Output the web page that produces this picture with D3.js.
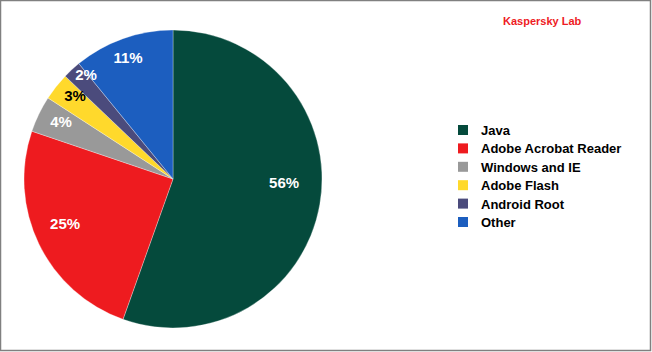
<!DOCTYPE html>
<html>
<head>
<meta charset="utf-8">
<script src="https://cdn.jsdelivr.net/npm/d3@7"></script>
<style>
  body { margin: 0; background: #fff; }
  svg { display: block; font-family: Arial, "Liberation Sans", sans-serif; }
</style>
</head>
<body>
<div id="container"></div>
<script>
const categories = ['Java', 'Adobe Acrobat Reader', 'Windows and IE', 'Adobe Flash', 'Android Root', 'Other']
const values = [56, 25, 4, 3, 2, 11]
const labels = ['56%', '25%', '4%', '3%', '2%', '11%']
const colors = ['#054A3C', '#EE1B1F', '#999999', '#FFD92C', '#4B4B7C', '#1C5EBF']
const labelColors = ['#fff', '#fff', '#fff', '#000', '#fff', '#fff']
// label placement: fraction of radius, and angle nudge in degrees
const labelRadius = [0.746, 0.785, 0.844, 0.862, 0.91, 0.866]
const labelNudge = [-7.9, 3.2, 1.3, 2, 2.9, -0.8]

const width = 652
const height = 352
const svg = d3.select('#container').append('svg').attr('width', width).attr('height', height)

svg.append('rect')
    .attr('x', 0.5).attr('y', 0.5)
    .attr('width', width - 2).attr('height', height - 2)
    .attr('fill', '#fff')
    .attr('stroke', '#808080')
    .attr('stroke-width', 1.5)

const cx = 173, cy = 179, r = 149

const pie = d3.pie().sort(null).value(d => d)
const arcs = pie(values)
const arc = d3.arc().innerRadius(0).outerRadius(r)

const g = svg.append('g').attr('transform', `translate(${cx},${cy})`)

g.selectAll('path').data(arcs).enter().append('path')
    .attr('d', arc)
    .attr('fill', (d, i) => colors[i])
    .attr('stroke', 'rgba(255,255,255,0.5)')
    .attr('stroke-width', 0.6)

g.selectAll('text').data(arcs).enter().append('text')
    .attr('transform', (d, i) => {
        const a = (d.startAngle + d.endAngle) / 2 + labelNudge[i] * Math.PI / 180
        const rr = r * labelRadius[i]
        return `translate(${Math.sin(a) * rr},${-Math.cos(a) * rr})`
    })
    .attr('text-anchor', 'middle')
    .attr('dy', '0.36em')
    .attr('fill', (d, i) => labelColors[i])
    .style('font-size', '15px')
    .style('font-weight', 'bold')
    .text((d, i) => labels[i])

// legend
const legend = svg.append('g').attr('transform', 'translate(458,125)')
const row = legend.selectAll('g').data(categories).enter().append('g')
    .attr('transform', (d, i) => `translate(0,${i * 18.4})`)
row.append('rect')
    .attr('width', 10).attr('height', 10)
    .attr('fill', (d, i) => colors[i])
row.append('text')
    .attr('x', 23).attr('y', 10)
    .style('font-size', '13px')
    .style('font-weight', 'bold')
    .attr('fill', '#000')
    .text(d => d)

svg.append('text')
    .attr('x', 503).attr('y', 25)
    .attr('fill', '#EE1B24')
    .style('font-size', '11px')
    .style('font-weight', 'bold')
    .text('Kaspersky Lab')
</script>
</body>
</html>
